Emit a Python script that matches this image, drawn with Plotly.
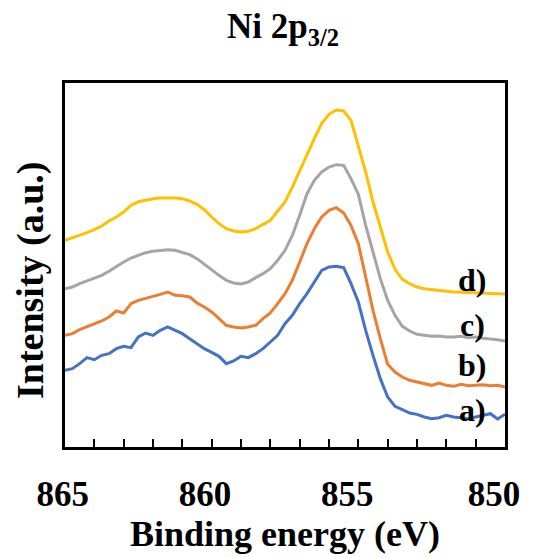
import plotly.graph_objects as go

# Binding energy grid (eV)
energy = [865.0, 864.75, 864.5, 864.25, 864.0, 863.75, 863.5, 863.25, 863.0, 862.75,
          862.5, 862.25, 862.0, 861.75, 861.5, 861.25, 861.0, 860.75, 860.5, 860.25,
          860.0, 859.75, 859.5, 859.25, 859.0, 858.75, 858.5, 858.25, 858.0, 857.75,
          857.5, 857.25, 857.0, 856.75, 856.5, 856.25, 856.0, 855.75, 855.5, 855.25,
          855.0, 854.75, 854.5, 854.25, 854.0, 853.75, 853.5, 853.25, 853.0, 852.75,
          852.5, 852.25, 852.0, 851.75, 851.5, 851.25, 851.0, 850.75, 850.5, 850.25,
          850.0]

# Intensities (a.u., offset stacked)
series_a = [300, 305, 320, 338, 332, 345, 350, 365, 372, 368,
            400, 412, 405, 420, 430, 420, 410, 395, 380, 365,
            354, 342, 320, 328, 342, 338, 350, 365, 385, 405,
            440, 465, 500, 530, 565, 600, 610, 612, 608, 560,
            505, 420, 345, 275, 220, 192, 182, 172, 168, 160,
            155, 158, 165, 160, 158, 155, 160, 165, 170, 154,
            168]
series_b = [405, 410, 422, 430, 440, 448, 460, 478, 472, 500,
            510, 517, 522, 528, 535, 525, 524, 520, 502, 490,
            475, 455, 435, 430, 427, 430, 435, 455, 472, 500,
            530, 570, 625, 680, 725, 760, 780, 788, 772, 735,
            680, 575, 480, 395, 318, 295, 280, 270, 265, 260,
            255, 262, 255, 252, 258, 254, 255, 257, 254, 255,
            250]
series_c = [545, 550, 560, 568, 575, 585, 597, 612, 625, 637,
            645, 653, 657, 660, 662, 660, 654, 647, 635, 618,
            603, 585, 570, 562, 559, 565, 578, 590, 605, 630,
            660, 705, 765, 830, 870, 895, 910, 917, 915, 875,
            828, 735, 655, 575, 510, 465, 432, 418, 408, 405,
            402, 403, 400, 400, 402, 398, 400, 396, 395, 392,
            388]
series_d = [690, 697, 705, 713, 722, 733, 748, 760, 775, 795,
            806, 811, 815, 817, 818, 817, 815, 808, 798, 782,
            760, 740, 725, 718, 715, 717, 725, 738, 750, 778,
            805, 850, 900, 945, 995, 1040, 1068, 1081, 1078, 1050,
            972, 895, 805, 730, 655, 603, 573, 560, 550, 545,
            542, 539, 537, 535, 534, 533, 532, 531, 530, 530,
            529]

series_names = ["a)", "b)", "c)", "d)"]
tick_values = [865, 860, 855, 850]
tick_labels = ["\u00a0\u00a0865", "\u00a0860", "855", "850"]

colors = ["#4472C4", "#ED7D31", "#A5A5A5", "#FFC000"]
label_y = [0.102, 0.225, 0.335, 0.459]

FONT = "Liberation Serif"

fig = go.Figure()
for name, ys, col in zip(series_names, [series_a, series_b, series_c, series_d], colors):
    fig.add_trace(go.Scatter(x=energy, y=ys, mode="lines", name=name,
                             line=dict(color=col, width=3), showlegend=False))

for name, ly in zip(series_names, label_y):
    fig.add_annotation(text=name, xref="paper", yref="paper", x=0.925, y=ly,
                       showarrow=False, xanchor="center", yanchor="middle",
                       font=dict(family=FONT, size=32, color="black", weight="bold"))

# y-axis title (placed as rotated text left of the frame)
fig.add_annotation(text="Intensity (a.u.)", xref="paper", yref="paper",
                   x=-0.077, y=0.459, textangle=-90, showarrow=False,
                   xanchor="center", yanchor="middle",
                   font=dict(family=FONT, size=38, color="black", weight="bold"))

fig.update_layout(
    width=537, height=558,
    margin=dict(l=65, r=32, t=83, b=111, autoexpand=False),
    paper_bgcolor="white", plot_bgcolor="white",
    font=dict(family=FONT, color="black", weight="bold"),
    title=dict(text="Ni 2p<sub>3/2</sub>", x=0.527, xanchor="center",
               y=1 - 26 / 558, yanchor="middle", yref="container",
               font=dict(family=FONT, size=35, color="black", weight="bold")),
    xaxis=dict(range=[865, 850], tickvals=tick_values, ticktext=tick_labels,
               ticks="inside", ticklen=8, tickwidth=2, tickcolor="black",
               minor=dict(dtick=1, ticks="inside", ticklen=8, tickwidth=2, tickcolor="black"),
               showline=True, mirror=True, linewidth=3, linecolor="black",
               showgrid=False, zeroline=False, ticklabelstandoff=14, automargin=False,
               ticklabelshift=11, ticklabeloverflow="allow",
               tickfont=dict(family=FONT, size=35, color="black", weight="bold"),
               title=dict(text="Binding energy (eV)", standoff=6,
                          font=dict(family=FONT, size=36, color="black", weight="bold"))),
    yaxis=dict(range=[70, 1162], showticklabels=False, ticks="",
               showline=True, mirror=True, linewidth=3, linecolor="black",
               showgrid=False, zeroline=False, automargin=False),
)

fig.write_html("out.html", config={"displayModeBar": False},
               post_script="document.body.style.margin='0';document.body.style.overflow='hidden';")
